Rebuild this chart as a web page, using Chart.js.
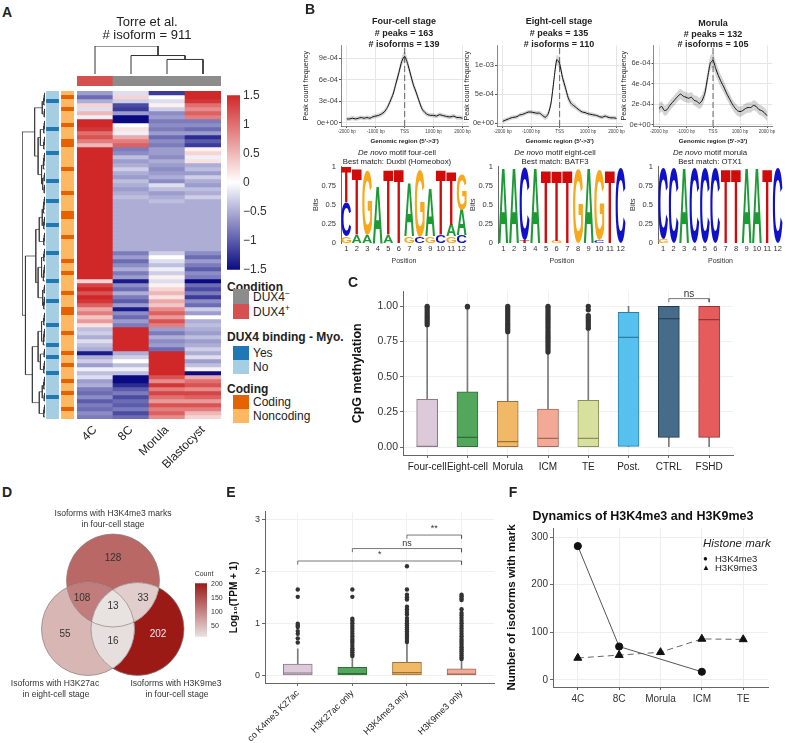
<!DOCTYPE html>
<html><head><meta charset="utf-8">
<script src="https://cdn.jsdelivr.net/npm/chart.js@4.4.1/dist/chart.umd.min.js"></script>
<style>
html,body{margin:0;padding:0;background:#fff;}
#root{position:relative;width:787px;height:743px;overflow:hidden;font-family:"Liberation Sans",Arial,sans-serif;color:#222;background:#fff;}
#root canvas{position:absolute;}
.t{position:absolute;white-space:nowrap;transform:translate(-50%,-50%);line-height:1;}
.l{position:absolute;white-space:nowrap;transform:translate(0,-50%);line-height:1;}
.b{position:absolute;}
sup{font-size:70%;vertical-align:super;line-height:0;}
</style></head><body><div id="root"></div>
<script>
/* ================= DATA ================= */
// Panel A: heatmap (row z-scores, top to bottom)
const hmStages = ['4C','8C','Morula','Blastocyst'];
const hmCondition = ['DUX4+','DUX4-','DUX4-','DUX4-'];
const hm4C = [-0.6,-0.9,-0.5,0.3,-0.2,0.5,-0.1,
 1.5,1.5,1.4,1.0,1.2,0.9,0.5,1.5,
 1.5,1.5,1.5,1.5,1.5,1.5,1.5,1.5,1.5,1.5,1.5,1.5,1.5,
 1.5,1.5,1.5,1.5,1.5,1.5,1.5,1.5,1.5,1.5,1.5,1.5,1.5,1.5,1.5,1.5,1.5,1.5,1.5,
 0.3,
 1.3,1.5,1.2,1.5,1.4,1.1,
 0.6,0.9,0.4,0.7,0.2,
 -0.4,-0.3,-0.5,-0.2,-0.4,-0.5,
 -1.4,
 -0.5,-0.3,-0.6,-0.1,-0.4,-0.2,-0.6,-0.5,
 -0.8,-0.9,-0.7,-1.0,-0.8,-0.9,-0.7,-0.8];
const hm8C = [-0.2,0.3,-0.3,-1.1,-1.2,-0.6,-1.5,-1.5,0.0,0.2,-0.1,0.6,0.9,1.1,-0.8,-0.7,
 -0.4,-0.6,-0.5,-0.3,-0.5,-0.6,-0.4,-0.5,-0.6,-0.5,-0.4,-0.5,
 -0.5,-0.5,-0.5,-0.5,-0.5,-0.5,-0.5,-0.5,-0.5,-0.5,-0.5,-0.5,
 -0.8,-0.6,-0.9,-0.7,-0.5,-0.8,-0.6,
 -1.4,
 -0.7,-0.9,-0.5,-0.8,-1.0,-0.6,
 -1.4,
 -0.7,-0.9,-0.6,-0.8,
 1.5,1.5,1.5,1.5,1.5,1.5,
 -0.5,
 -0.3,0.0,-0.4,-0.1,
 -0.4,
 -1.5,-1.5,-1.3,
 -1.0,-0.8,-1.1,-0.9,-1.0,-0.8,-1.1,-0.9];
const hmMorula = [-1.2,0.0,-0.2,0.1,-0.3,-0.7,-0.6,-0.8,-0.7,-0.8,-0.6,-0.9,-0.7,-0.8,-0.6,
 -0.6,-0.7,-0.5,-0.6,-0.7,-0.6,-0.5,-0.7,-0.2,-0.4,-0.6,-0.5,-0.4,
 -0.5,-0.5,-0.5,-0.5,-0.5,-0.5,-0.5,-0.5,-0.5,-0.5,-0.5,-0.5,
 -0.3,0.0,-0.2,-0.4,-0.1,-0.3,0.1,
 -0.2,0.1,
 0.3,0.5,0.2,0.6,0.4,
 0.8,1.1,0.7,1.2,0.9,
 -0.6,-0.8,-0.5,-0.7,-0.6,-0.9,
 1.5,1.5,1.5,1.5,1.5,1.5,
 1.2,0.8,1.4,0.9,1.3,1.0,0.7,1.2,0.9,1.1,0.8];
const hmBlastocyst = [1.5,1.5,1.4, 1.0,0.8,1.1,0.9, -0.8,-0.7,-0.9,-0.6, -1.3,-1.0,-1.2, 0.1,0.3,-0.1,0.2,
 -0.5,-0.4,-0.6,-0.3,-0.5,-0.6,-0.4,-0.5,-0.3,-0.5,
 -0.5,-0.5,-0.5,-0.5,-0.5,-0.5,-0.5,-0.5,-0.5,-0.5,-0.5,-0.5,
 -0.7,-0.9,-0.6,-0.8,-1.0,-0.7,-0.8,
 -1.5,
 -0.9,-1.1,-0.8,-1.2,-0.7,-0.9,
 -0.3,-0.6,0.0,-0.5,-0.4,
 -0.5,-0.6,-0.4,-0.6,-0.5,
 -0.3,-0.5,-0.2,-0.6,-0.4,0.1,
 -1.5,
 0.6,1.0,1.2,0.8,1.3,1.1,0.7,1.2,0.9,0.5,0.3];
// row annotations (1 = Yes / Coding)
const dux4Binding = [0,0,1,0,0,0,0,0,0,1, 0,0,0,0,0,1,0,0,0,0, 0,0,1,0,0,0,0,1,0,0, 0,0,0,1,0,0,0,0,0,0,
 1,0,0,0,0,0,0,1,0,0, 0,0,1,0,0,0,0,0,1,0, 0,0,0,1,0,0,1,0,0,0, 1,0,0,0,0,0,1,0,0,0, 0,0];
const isCoding = [0,1,0,0,1,0,0,0,1,0, 0,0,1,1,0,0,0,0,0,1, 0,0,0,0,0,1,0,0,0,0, 1,1,0,0,0,0,1,0,0,0,
 0,0,1,0,0,1,0,0,0,0, 1,0,0,0,1,1,0,0,0,0, 1,0,0,0,0,1,0,0,1,0, 0,0,1,0,0,1,0,0,0,1, 0,0];
// dendrograms: [height, left, right]; numbers = leaf counts
const colTree = [1.0, 1, [0.66, 1, [0.52, 1, 1]]];
const rowTree = [1.0,
 [0.45,[0.12,4,3],[0.3,[0.2,4,4],[0.15,5,[0.1,3,3]]]],
 [0.85,
  [0.4,[0.25,[0.12,5,4],4],[0.3,[0.15,4,5],[0.1,3,4]]],
  [0.55,[0.3,[0.15,4,5],[0.2,3,4]],[0.25,[0.12,4,3],4]]]];
const zTicks = [-1.5,-1,-0.5,0,0.5,1,1.5];

// Panel B: peak profiles (x1e-4)
const bpPos = [-2000,-1900,-1800,-1700,-1600,-1500,-1400,-1300,-1200,-1100,-1000,-900,-800,-700,-600,-500,-400,-300,-200,-100,
 0,100,200,300,400,500,600,700,800,900,1000,1100,1200,1300,1400,1500,1600,1700,1800,1900,2000];
const peak4C = [0.5,0.5,0.6,0.5,0.6,0.7,0.6,0.7,0.6,0.8,0.9,1.0,1.2,1.5,2.1,3.0,4.0,5.5,7.0,8.6,
 9.3,8.3,6.8,5.3,4.2,3.0,1.9,1.4,1.1,1.0,1.0,0.9,1.1,1.0,0.9,0.8,0.8,0.9,0.7,0.7,0.6];
const se4C = [0.3,0.3,0.3,0.3,0.3,0.3,0.3,0.3,0.3,0.3,0.3,0.3,0.35,0.35,0.4,0.45,0.5,0.55,0.6,0.65,
 0.7,0.65,0.6,0.55,0.5,0.45,0.4,0.35,0.3,0.3,0.3,0.3,0.3,0.3,0.3,0.3,0.3,0.3,0.3,0.3,0.3];
const peak8C = [0.3,0.5,0.7,0.9,1.0,1.1,1.4,1.5,1.7,1.9,1.9,1.8,1.7,1.7,1.3,1.0,1.6,3.5,7.5,11.0,
 10.3,7.9,6.2,4.4,3.4,3.0,2.6,2.2,1.9,1.8,1.6,1.5,1.4,1.3,1.1,1.0,1.2,1.0,0.9,0.9,0.8];
const se8C = [0.35,0.35,0.35,0.35,0.35,0.35,0.35,0.35,0.35,0.35,0.35,0.35,0.4,0.4,0.45,0.5,0.6,0.7,0.8,0.85,
 0.9,0.85,0.8,0.7,0.6,0.5,0.45,0.4,0.35,0.35,0.35,0.35,0.35,0.35,0.35,0.35,0.35,0.35,0.35,0.35,0.35];
const peakMorula = [1.6,1.8,1.4,1.5,1.9,2.2,2.5,2.8,3.0,2.8,2.7,2.6,2.7,2.4,2.3,2.1,2.4,3.1,4.6,6.0,
 6.3,5.5,4.8,4.2,3.7,3.1,2.6,2.1,1.7,1.4,1.3,1.4,1.6,1.7,1.7,1.9,1.8,1.5,1.4,1.2,0.9];
const seMorula = [0.5,0.5,0.5,0.5,0.5,0.5,0.5,0.5,0.5,0.5,0.5,0.5,0.5,0.5,0.55,0.55,0.6,0.6,0.65,0.7,
 0.7,0.7,0.65,0.6,0.6,0.55,0.55,0.5,0.5,0.5,0.5,0.5,0.5,0.5,0.5,0.5,0.5,0.5,0.5,0.5,0.5];
const bpTicks = [-2000,-1000,0,1000,2000];
const bpTickLabels = ['-2000 bp','-1000 bp','TSS','1000 bp','2000 bp'];
// motifs: per position, letters bottom -> top with bits
const motif4C = [
 [['G',0.085],['C',0.45],['T',0.45]],
 [['A',0.1],['T',0.86]],
 [['A',0.1],['G',0.85]],
 [['A',0.75]],
 [['A',0.1],['T',0.85]],
 [['T',0.96]],
 [['G',0.085],['A',0.69]],
 [['C',0.085],['G',0.87]],
 [['G',0.085],['A',0.62]],
 [['C',0.1],['T',0.85]],
 [['G',0.085],['A',0.15],['T',0.7]],
 [['C',0.1],['A',0.33],['G',0.47]]];
const motif8C = [
 [['A',0.98]],[['A',0.98]],[['T',0.04],['C',0.94]],[['A',0.98]],[['T',0.95]],[['G',0.03],['T',0.92]],
 [['T',0.95]],[['G',0.96]],[['A',0.98]],[['C',0.04],['G',0.92]],[['T',0.95]],[['C',0.98]]];
const motifMorula = [
 [['G',0.05],['C',0.93]],[['C',0.98]],[['A',0.98]],[['C',0.98]],[['C',0.98]],[['C',0.98]],
 [['T',0.96]],[['T',0.96]],[['A',0.98]],[['A',0.98]],[['T',0.96]],[['C',0.98]]];
const motifPositions = ['1','2','3','4','5','6','7','8','9','10','11','12'];

// Panel C: CpG methylation box plots
const cLabels = ['Four-cell','Eight-cell','Morula','ICM','TE','Post.','CTRL','FSHD'];
const cLow = [0,0,0,0,0,0,0,0];
const cQ1 = [0,0,0,0,0,0.005,0.069,0.069];
const cMed = [0.005,0.069,0.039,0.062,0.062,0.78,0.912,0.905];
const cQ3 = [0.34,0.393,0.326,0.271,0.333,0.958,1.0,1.0];
const cHigh = [0.86,0.975,0.81,0.665,0.835,1.0,1.0,1.0];
const cOutliers = [
 [0.87,0.885,0.9,0.915,0.93,0.945,0.96,0.975,0.99,1.0],
 [0.995,1.0],
 [0.82,0.835,0.85,0.865,0.88,0.895,0.91,0.925,0.94,0.955,0.97,0.985,1.0],
 [0.675,0.69,0.705,0.72,0.735,0.75,0.765,0.78,0.795,0.81,0.825,0.84,0.855,0.87,0.885,0.9,0.915,0.93,0.945,0.96,0.975,0.99,1.0],
 [0.845,0.86,0.875,0.89,0.905,0.92,0.935,0.975,1.0],
 [],[],[]];

// Panel D: Venn
const vennSets = ['H3K4me3 four-cell','H3K27ac eight-cell','H3K9me3 four-cell'];
const vennCounts = [128,55,202,108,33,16,13]; // K4 only, K27 only, K9 only, K4&K27, K4&K9, K27&K9, all
const vennMembership = [[1,0,0],[0,1,0],[0,0,1],[1,1,0],[1,0,1],[0,1,1],[1,1,1]];
const countTicks = [50,100,150,200];

// Panel E: log10(TPM+1)
const eLabels = ['co K4me3 K27ac','H3K27ac only','H3K4me3 only','H3K9me3 only'];
const eLow = [0,0,0,0];
const eQ1 = [0.005,0.005,0.005,0.005];
const eMed = [0.043,0.03,0.05,0.02];
const eQ3 = [0.216,0.154,0.247,0.123];
const eHigh = [0.51,0.34,0.6,0.3];
const eOutliers = [
 [0.63,0.71,0.8,0.85,0.93,0.96,0.99,1.51,1.65],
 [0.37,0.4,0.44,0.48,0.52,0.57,0.62,0.66,0.7,0.75,0.8,0.85,0.9,0.95,1.0,1.05,1.09,1.51,1.65],
 [0.64,0.68,0.72,0.76,0.8,0.84,0.88,0.92,0.96,1.0,1.05,1.1,1.17,1.22,1.27,1.32,1.46,1.5,1.55,1.65,2.1],
 [0.31,0.34,0.38,0.42,0.46,0.5,0.54,0.58,0.62,0.66,0.7,0.75,0.8,0.85,0.9,0.95,1.0,1.05,1.1,1.15,1.2,1.27,1.45,1.48,1.52,1.55]];
const eSignif = [['**',2,3,2.70],['ns',1,3,2.44],['*',0,3,2.20]];

// Panel F
const fStages = ['4C','8C','Morula','ICM','TE'];
const fH3K4me3 = [281,70,null,17,null];
const fH3K9me3 = [46,52,58,86,85];

/* ================= HELPERS ================= */
const root = document.getElementById('root');
Chart.defaults.font.family = '"Liberation Sans", Arial, sans-serif';
Chart.defaults.color = '#333';
Chart.defaults.animation = false;
Chart.defaults.responsive = false;
Chart.defaults.maintainAspectRatio = false;
Chart.defaults.plugins.legend.display = false;
Chart.defaults.plugins.tooltip.enabled = false;
Chart.defaults.events = [];

function mk(x,y,w,h){const c=document.createElement('canvas');c.width=w;c.height=h;
 c.style.left=x+'px';c.style.top=y+'px';c.style.width=w+'px';c.style.height=h+'px';root.appendChild(c);return c.getContext('2d');}
function T(x,y,html,css,cls){const d=document.createElement('div');d.className=cls||'t';d.style.left=x+'px';d.style.top=y+'px';
 d.innerHTML=html;if(css)d.style.cssText+=css;root.appendChild(d);return d;}
function B(x,y,w,h,col){const d=document.createElement('div');d.className='b';d.style.cssText+=`left:${x}px;top:${y}px;width:${w}px;height:${h}px;background:${col}`;root.appendChild(d);}
const setTicks = vals => s => { s.ticks = vals.map(v=>({value:v})); };
const minus = v => (v<0?'\u2212':'') + Math.abs(v);
const noGrid = {display:false,drawTicks:false};

function zColor(v){v=Math.max(-1.5,Math.min(1.5,v));const t=Math.abs(v)/1.5;
 const end=v<0?[10,10,130]:[208,40,40];const c=[255,255,255].map((w,i)=>Math.round(w+(end[i]-w)*t));return `rgb(${c.join(',')})`;}
const vMin=Math.min(...vennCounts), vMax=Math.max(...vennCounts);
function vColor(v){const t=(v-vMin)/(vMax-vMin);const lo=[232,226,225],hi=[155,26,22];
 return `rgb(${lo.map((a,i)=>Math.round(a+(hi[i]-a)*t)).join(',')})`;}

function dendro(tree, comb){
 const out=[]; let pos=0;
 function rec(node){
  if(typeof node==='number'){
   let c=pos+0.5,h=0;
   for(let i=1;i<node;i++){const p=pos+i+0.5,nh=comb*i;
    out.push({p:c,h:h},{p:c,h:nh},{p:p,h:nh},{p:p,h:0},{p:NaN,h:NaN});c=(c+p)/2;h=nh;}
   pos+=node;return {c,h};
  }
  const [H,L,R]=node;const l=rec(L),r=rec(R);
  out.push({p:l.c,h:l.h},{p:l.c,h:H},{p:r.c,h:H},{p:r.c,h:r.h},{p:NaN,h:NaN});
  return {c:(l.c+r.c)/2,h:H};
 }
 rec(tree);return out;
}

const annot = {id:'annot', afterDatasetsDraw(chart,args,o){ if(!o||!o.items) return; const ctx=chart.ctx;
 o.items.forEach(it=>{ctx.save();ctx.font=it.font||'10px "Liberation Sans"';ctx.fillStyle=it.color||'#333';ctx.textAlign='center';ctx.textBaseline='middle';
 ctx.fillText(it.text,chart.scales.x.getPixelForValue(it.x),chart.scales.y.getPixelForValue(it.y));ctx.restore();});}};
Chart.register(annot);

/* ================= PANEL A ================= */
const hmValues=[hm4C,hm8C,hmMorula,hmBlastocyst];
const nRows=hm4C.length;
const rowIdx=hm4C.map((_,i)=>i);
new Chart(mk(70,91,155,400),{type:'bar',
 data:{labels:hmStages,datasets:rowIdx.map(r=>({data:hmStages.map(()=>1),backgroundColor:hmValues.map(col=>zColor(col[r])),
   stack:'hm',barPercentage:1,categoryPercentage:1,borderWidth:0}))},
 options:{layout:{padding:{left:7,right:4,top:0,bottom:0}},
  scales:{x:{stacked:true,grid:noGrid,border:{display:false},ticks:{minRotation:45,maxRotation:45,font:{size:12},color:'#222',padding:4},afterFit(s){s.height=72;}},
   y:{stacked:true,display:false,min:0,max:nRows,reverse:true}}}});
// row annotation strips
new Chart(mk(45,91,30,328),{type:'bar',
 data:{labels:['DUX4 binding - Myo.','Coding'],datasets:rowIdx.map(r=>({data:[1,1],
   backgroundColor:[dux4Binding[r]?'#1f78b4':'#a6cee3',isCoding[r]?'#e66101':'#fdb863'],stack:'a',barPercentage:0.86,categoryPercentage:1,borderWidth:0}))},
 options:{layout:{padding:0},scales:{x:{stacked:true,display:false},y:{stacked:true,display:false,min:0,max:nRows,reverse:true}}}});
// condition bar
new Chart(mk(70,76,155,10),{type:'bar',
 data:{labels:hmStages,datasets:[{data:hmStages.map(()=>1),backgroundColor:hmCondition.map(c=>c==='DUX4+'?'#d65050':'#8c8c8c'),barPercentage:1,categoryPercentage:1,borderWidth:0}]},
 options:{layout:{padding:{left:7,right:4}},scales:{x:{display:false},y:{display:false,min:0,max:1}}}});
// column dendrogram
new Chart(mk(70,40,155,37),{type:'scatter',
 data:{datasets:[{data:dendro(colTree,0).map(d=>({x:d.p,y:d.h})),showLine:true,borderColor:'#333',borderWidth:1,pointRadius:0,spanGaps:false}]},
 options:{layout:{padding:{left:7,right:4,top:6,bottom:3}},scales:{x:{display:false,min:0,max:4},y:{display:false,min:0,max:1}}}});
// row dendrogram
new Chart(mk(20,91,25,328),{type:'scatter',
 data:{datasets:[{data:dendro(rowTree,0.018).map(d=>({x:d.h,y:d.p})),showLine:true,borderColor:'#333',borderWidth:0.7,pointRadius:0,spanGaps:false}]},
 options:{layout:{padding:{left:2,right:0}},scales:{x:{display:false,min:0,max:1,reverse:true},y:{display:false,min:0,max:nRows,reverse:true}}}});
// colour key
new Chart(mk(225,85,58,195),{type:'bar',
 data:{labels:['z'],datasets:[{data:[[zTicks[0],zTicks[zTicks.length-1]]],barPercentage:1,categoryPercentage:1,borderWidth:0,
  backgroundColor:(c)=>{const ch=c.chart;if(!ch.chartArea)return '#fff';const y=ch.scales.y;
   const g=ch.ctx.createLinearGradient(0,y.getPixelForValue(-1.5),0,y.getPixelForValue(1.5));
   zTicks.forEach((v,i)=>g.addColorStop(i/(zTicks.length-1),zColor(v)));return g;}}]},
 options:{layout:{padding:{left:2,top:6,bottom:9}},
  scales:{x:{display:false},y:{position:'right',min:-1.5,max:1.5,afterBuildTicks:setTicks(zTicks),grid:noGrid,border:{display:false},
   ticks:{callback:v=>minus(v),font:{size:12},color:'#333',padding:3},afterFit(s){s.width=43;}}}}});
T(7,12,'A','font-weight:bold;font-size:14px;');
T(147,21,'Torre et al.','font-size:13px;');
T(147,34,'# isoform = 911','font-size:13px;');
T(227,287,'Condition','font-weight:bold;font-size:12px;','l');
B(233,289,16,15,'#8c8c8c');B(233,304,16,15,'#d65050');
T(253,297,'DUX4<sup>\u2212</sup>','font-size:12px;','l');T(253,312,'DUX4<sup>+</sup>','font-size:12px;','l');
T(227,337,'DUX4 binding - Myo.','font-weight:bold;font-size:12px;','l');
B(233,346,16,14,'#1f78b4');B(233,360,16,14,'#a6cee3');
T(253,353,'Yes','font-size:12px;','l');T(253,367,'No','font-size:12px;','l');
T(227,389,'Coding','font-weight:bold;font-size:12px;','l');
B(233,395,16,14,'#e66101');B(233,409,16,14,'#fdb863');
T(253,402,'Coding','font-size:12px;','l');T(253,416,'Noncoding','font-size:12px;','l');

/* ================= PANEL B ================= */
const expFmt = v => v===0?'0e+00':v.toExponential(0).replace(/e([+-])(\d)$/,'e$10$2');
function peakChart(ctx,o){
 new Chart(ctx,{type:'line',data:{datasets:[
   {data:bpPos.map((b,i)=>({x:b,y:(o.m[i]+o.se[i])*1e-4})),borderWidth:0,pointRadius:0,fill:'+1',backgroundColor:'rgba(0,0,0,0.17)',tension:0.2},
   {data:bpPos.map((b,i)=>({x:b,y:(o.m[i]-o.se[i])*1e-4})),borderWidth:0,pointRadius:0,fill:false,tension:0.2},
   {data:bpPos.map((b,i)=>({x:b,y:o.m[i]*1e-4})),borderColor:'#111',borderWidth:1,pointRadius:0,fill:false,tension:0.2},
   {data:[{x:0,y:o.min},{x:0,y:o.max}],borderColor:'#444',borderWidth:0.8,borderDash:[6,3],pointRadius:0,fill:false}]},
  options:{layout:{padding:{top:5,right:o.padR}},
   scales:{x:{type:'linear',min:-2200,max:2200,afterBuildTicks:setTicks(bpTicks),
     ticks:{callback:v=>bpTickLabels[bpTicks.indexOf(v)],font:{size:4.6},color:'#444',padding:1,maxRotation:0,autoSkip:false},
     grid:{color:'#e6e6e6',tickLength:2,tickColor:'#555'},border:{color:'#555',width:0.7},
     title:{display:true,text:"Genomic region (5'->3')",font:{size:6.2,weight:'bold'},padding:{top:2,bottom:0},color:'#222'},afterFit(s){s.height=19;}},
    y:{min:o.min,max:o.max,afterBuildTicks:setTicks(o.ticks),ticks:{callback:expFmt,font:{size:7.5},color:'#444',padding:1},
     grid:{color:'#e6e6e6',tickLength:2,tickColor:'#555'},border:{color:'#555',width:0.7},
     title:{display:true,text:'Peak count frequency',font:{size:7.2},padding:0,color:'#222'},afterFit(s){s.width=o.axisW;}}}}});
}
peakChart(mk(302,40,170,105),{m:peak4C,se:se4C,min:-0.049e-3,max:1.081e-3,ticks:[0,3e-4,6e-4,9e-4],axisW:39,padR:3});
peakChart(mk(463,40,163,105),{m:peak8C,se:se8C,min:-0.052e-3,max:1.345e-3,ticks:[0,5e-4,1e-3],axisW:34,padR:3});
peakChart(mk(620,40,157,105),{m:peakMorula,se:seMorula,min:-0.01e-3,max:0.773e-3,ticks:[0,2e-4,4e-4,6e-4],axisW:33.6,padR:4.6});
T(310,9,'B','font-weight:bold;font-size:14px;');
[[404,'Four-cell stage','163','139',0],[559,'Eight-cell stage','135','110',0],[713,'Morula','132','105',2]].forEach(([x,a,p,i,dy])=>{
 T(x,21+dy,a,'font-weight:bold;font-size:9px;');T(x,32.5+dy*0.5,'# peaks = '+p,'font-weight:bold;font-size:9px;');T(x,43.5,'# isoforms = '+i,'font-weight:bold;font-size:9px;');});

const logoColors={A:'#1d9a35',C:'#1010c8',G:'#f7a81b',T:'#d10a0a'};
const logoPlugin={id:'logo',afterDatasetsDraw(chart){const ctx=chart.ctx;
 chart.data.datasets.forEach((ds,di)=>{chart.getDatasetMeta(di).data.forEach((el,i)=>{const L=ds.letters[i];if(!L)return;
  const {x,y,base,width}=el.getProps(['x','y','base','width'],true);const top=Math.min(y,base),h=Math.abs(base-y);if(h<0.8)return;
  ctx.save();ctx.font='bold 100px "Liberation Sans", Arial';const m=ctx.measureText(L);
  const tw=m.actualBoundingBoxLeft+m.actualBoundingBoxRight,th=m.actualBoundingBoxAscent+m.actualBoundingBoxDescent;
  ctx.translate(x-width/2,top);ctx.scale(width/tw,h/th);ctx.fillStyle=logoColors[L];ctx.textBaseline='alphabetic';
  ctx.fillText(L,m.actualBoundingBoxLeft,m.actualBoundingBoxAscent);ctx.restore();});});}};
function logoChart(ctx,motif,padR){
 const n=Math.max(...motif.map(p=>p.length));const ds=[];
 for(let k=0;k<n;k++)ds.push({data:motif.map(p=>p[k]?p[k][1]:0),letters:motif.map(p=>p[k]?p[k][0]:null),
  backgroundColor:'rgba(0,0,0,0)',borderWidth:0,stack:'s',barPercentage:1,categoryPercentage:0.93});
 new Chart(ctx,{type:'bar',data:{labels:motifPositions,datasets:ds},plugins:[logoPlugin],
  options:{layout:{padding:{top:5,right:padR}},
   scales:{x:{stacked:true,grid:noGrid,border:{display:false},ticks:{font:{size:7.5},color:'#333',padding:1,maxRotation:0,autoSkip:false},
     title:{display:true,text:'Position',font:{size:7},padding:{top:0,bottom:0},color:'#333'},afterFit(s){s.height=22;}},
    y:{stacked:true,min:0,max:1,afterBuildTicks:setTicks([0,0.25,0.5,0.75,1]),ticks:{callback:v=>String(v),font:{size:7.5},color:'#333',padding:2},
     grid:{display:false,drawOnChartArea:false,tickLength:3},border:{color:'#444',width:0.8},
     title:{display:true,text:'Bits',font:{size:7.5},padding:0,color:'#333'},afterFit(s){s.width=30;}}}}});
}
logoChart(mk(311,160,158,105),motif4C,2);
logoChart(mk(468,160,160,105),motif8C,2);
logoChart(mk(628,160,159,105),motifMorula,4);
[[397,'four-cell','Duxbl (Homeobox)'],[555,'eight-cell','BATF3'],[710,'morula','OTX1']].forEach(([x,s,b])=>{
 T(x,152.5,'<i>De novo</i> motif '+s,'font-size:7.8px;color:#222;');T(x,162,'Best match: '+b,'font-size:7.8px;color:#222;');});

/* ================= BOX PLOT HELPER ================= */
function boxChart(ctx,o){
 const idx=o.labels.map((_,i)=>i);
 const ds=[
  {type:'bar',data:idx.map(i=>({x:i,y:[o.lo[i],o.hi[i]]})),backgroundColor:'#7a7a7a',barThickness:1,grouped:false,order:6},
  {type:'bar',data:idx.map(i=>({x:i,y:[o.q1[i],o.q3[i]]})),backgroundColor:o.fill,borderColor:o.stroke,borderWidth:1,borderSkipped:false,barThickness:o.boxW,grouped:false,order:5},
  {type:'scatter',data:idx.map(i=>({x:i,y:o.med[i]})),pointStyle:'line',pointRadius:o.boxW/2,pointBorderColor:o.stroke,borderColor:o.stroke,pointBorderWidth:1.2,order:4},
  {type:'scatter',data:o.out.flatMap((a,i)=>a.map(v=>({x:i,y:v}))),pointRadius:o.outR,backgroundColor:'#333',borderColor:'#333',pointBorderWidth:0,order:3}];
 (o.brackets||[]).forEach(b=>ds.push({type:'line',data:b,borderColor:'#555',borderWidth:0.8,pointRadius:0,fill:false,order:1}));
 new Chart(ctx,{type:'bar',data:{datasets:ds},
  options:{layout:{padding:o.pad},plugins:{annot:{items:o.notes||[]}},
   scales:{x:{type:'linear',offset:false,min:-0.6,max:o.labels.length-0.4,afterBuildTicks:setTicks(idx),
     ticks:{callback:v=>o.labels[v],font:{size:o.xFont},color:'#222',padding:o.xPad,autoSkip:false,minRotation:o.rot,maxRotation:o.rot},
     grid:{offset:false,color:'#f0f0f0',tickLength:3,tickColor:'#666'},border:{color:'#666',width:1},afterFit(s){s.height=o.xH;}},
    y:{min:o.yMin,max:o.yMax,afterBuildTicks:setTicks(o.yTicks),ticks:{callback:o.yFmt,font:{size:o.yFont},color:'#333',padding:2},
     grid:{color:'#f0f0f0',tickLength:3,tickColor:'#666'},border:{color:'#666',width:1},
     title:{display:true,text:o.yTitle,font:{size:o.yTitleFont,weight:'bold'},color:'#111',padding:o.yTitlePad},afterFit(s){s.width=o.yW;}}}}});
}

/* ================= PANEL C ================= */
boxChart(mk(350,280,395,195),{labels:cLabels,lo:cLow,q1:cQ1,med:cMed,q3:cQ3,hi:cHigh,out:cOutliers,
 fill:['#dccadb','#53a75c','#f1b868','#f2aa96','#d8e09e','#56c0ee','#466c8a','#e65b5b'],
 stroke:['#8a7a89','#2f6e37','#9c7238','#a06a5a','#8a8f5c','#2e7ea3','#22394c','#9c3333'],
 boxW:21,outR:2.6,pad:{top:8,right:5},xFont:10,xPad:3,rot:0,xH:20,yMin:-0.056,yMax:1.104,yTicks:[0,0.25,0.5,0.75,1],
 yFmt:v=>v.toFixed(2),yFont:10.5,yTitle:'CpG methylation',yTitleFont:12.5,yTitlePad:{top:0,bottom:2},yW:53,
 brackets:[[{x:6,y:1.03},{x:6,y:1.055},{x:7,y:1.055},{x:7,y:1.03}]],
 notes:[{x:6.5,y:1.085,text:'ns',font:'10px "Liberation Sans"'}]});
T(353,282,'C','font-weight:bold;font-size:14px;');

/* ================= PANEL D ================= */
const vennPlugin={id:'venn',afterDatasetsDraw(chart,args,o){const ctx=chart.ctx,xs=chart.scales.x,ys=chart.scales.y,W=chart.width,H=chart.height;
 const C=o.circles.map(c=>({x:xs.getPixelForValue(c.x),y:ys.getPixelForValue(c.y),r:Math.abs(xs.getPixelForValue(c.x+c.r)-xs.getPixelForValue(c.x))}));
 vennMembership.forEach((mask,k)=>{ctx.save();
  C.forEach((c,i)=>{ctx.beginPath();if(mask[i]){ctx.arc(c.x,c.y,c.r,0,Math.PI*2);ctx.clip();}
   else{ctx.rect(0,0,W,H);ctx.moveTo(c.x+c.r,c.y);ctx.arc(c.x,c.y,c.r,0,Math.PI*2);ctx.clip('evenodd');}});
  ctx.fillStyle=vColor(vennCounts[k]);ctx.fillRect(0,0,W,H);ctx.restore();});
 ctx.save();ctx.strokeStyle='#8a8080';ctx.lineWidth=0.7;C.forEach(c=>{ctx.beginPath();ctx.arc(c.x,c.y,c.r,0,Math.PI*2);ctx.stroke();});
 ctx.font='10px "Liberation Sans", Arial';ctx.textAlign='center';ctx.textBaseline='middle';
 o.labelAt.forEach((p,k)=>{ctx.fillStyle=vennCounts[k]>180?'#f6e6e6':'#333';ctx.fillText(String(vennCounts[k]),xs.getPixelForValue(p[0]),ys.getPixelForValue(p[1]));});
 ctx.restore();}};
new Chart(mk(0,500,232,205),{type:'scatter',data:{datasets:[{data:[]}]},plugins:[vennPlugin],
 options:{layout:{padding:0},plugins:{venn:{
   circles:[{x:113,y:580.5,r:46.5},{x:88,y:629,r:46.5},{x:137.5,y:629,r:46.5}],
   labelAt:[[113,558],[65,634],[158,634],[82,598],[143,598],[113,641],[113,606]]}},
  scales:{x:{display:false,min:0,max:232},y:{display:false,min:500,max:705,reverse:true}}}});
T(7,492,'D','font-weight:bold;font-size:14px;');
T(113,513,'Isoforms with H3K4me3 marks','font-size:8.6px;color:#333;');T(113,524,'in four-cell stage','font-size:8.6px;color:#333;');
T(55,683,'Isoforms with H3K27ac','font-size:8.6px;color:#333;');T(56,694,'in eight-cell stage','font-size:8.6px;color:#333;');
T(176,683,'Isoforms with H3K9me3','font-size:8.6px;color:#333;');T(177,694,'in four-cell stage','font-size:8.6px;color:#333;');
T(204,573,'Count','font-size:7px;color:#333;');
new Chart(mk(193,575,37,70),{type:'bar',
 data:{labels:['count'],datasets:[{data:[[vMin,vMax]],barPercentage:1,categoryPercentage:1,borderWidth:0,
  backgroundColor:(c)=>{const ch=c.chart;if(!ch.chartArea)return '#fff';const y=ch.scales.y;
   const g=ch.ctx.createLinearGradient(0,y.getPixelForValue(vMin),0,y.getPixelForValue(vMax));
   g.addColorStop(0,vColor(vMin));g.addColorStop(0.5,vColor((vMin+vMax)/2));g.addColorStop(1,vColor(vMax));return g;}}]},
 options:{layout:{padding:{left:2,top:6,bottom:7}},
  scales:{x:{display:false},y:{position:'right',min:vMin,max:vMax,afterBuildTicks:setTicks(countTicks),grid:noGrid,border:{display:false},
   ticks:{font:{size:7},color:'#333',padding:4},afterFit(s){s.width=23;}}}}});

/* ================= PANEL E ================= */
boxChart(mk(228,496,282,247),{labels:eLabels,lo:eLow,q1:eQ1,med:eMed,q3:eQ3,hi:eHigh,out:eOutliers,
 fill:['#dccadb','#53a75c','#f1b868','#f2aa96'],stroke:['#8a7a89','#2f6e37','#9c7238','#a06a5a'],
 boxW:29,outR:2.2,pad:{top:7,right:5},xFont:9,xPad:2,rot:45,xH:60,yMin:-0.15,yMax:3.15,yTicks:[0,1,2,3],
 yFmt:v=>String(v),yFont:9,yTitle:'Log\u2081\u2080(TPM + 1)',yTitleFont:10,yTitlePad:{top:0,bottom:4},yW:37,
 brackets:eSignif.map(([s,a,b,h])=>[{x:a,y:h-0.07},{x:a,y:h},{x:b,y:h},{x:b,y:h-0.07}]),
 notes:eSignif.map(([s,a,b,h])=>({x:(a+b)/2,y:h+(s==='ns'?0.1:0.12),text:s,font:'9px "Liberation Sans"'}))});
T(231,492,'E','font-weight:bold;font-size:14px;');

/* ================= PANEL F ================= */
new Chart(mk(505,520,282,190),{type:'line',
 data:{datasets:[
  {data:fH3K4me3.map((v,i)=>({x:i,y:v})),spanGaps:true,borderColor:'#555',borderWidth:1,pointStyle:'circle',pointRadius:3.6,pointBackgroundColor:'#111',pointBorderColor:'#111'},
  {data:fH3K9me3.map((v,i)=>({x:i,y:v})),borderColor:'#666',borderWidth:1,borderDash:[6,4],pointStyle:'triangle',pointRadius:4.6,pointBackgroundColor:'#111',pointBorderColor:'#111'}]},
 options:{layout:{padding:{top:7,right:19}},
  scales:{x:{type:'linear',min:-0.6,max:4.6,afterBuildTicks:setTicks([0,1,2,3,4]),ticks:{callback:v=>fStages[v],font:{size:10},color:'#333',padding:3,maxRotation:0,autoSkip:false},
    grid:{color:'#eeeeee',tickLength:3,tickColor:'#666'},border:{color:'#666',width:1},afterFit(s){s.height=23;}},
   y:{min:-15,max:319,afterBuildTicks:setTicks([0,100,200,300]),ticks:{font:{size:10},color:'#333',padding:2},
    grid:{color:'#eeeeee',tickLength:3,tickColor:'#666'},border:{color:'#666',width:1},
    title:{display:true,text:'Number of isoforms with mark',font:{size:11.5,weight:'bold'},color:'#111',padding:{top:0,bottom:3}},afterFit(s){s.width=48;}}}}});
T(513,492,'F','font-weight:bold;font-size:14px;');
T(643,516,'Dynamics of H3K4me3 and H3K9me3','font-weight:bold;font-size:12.5px;color:#111;');
T(703,544,'<i>Histone mark</i>','font-size:11.5px;color:#222;','l');
T(703,559,'\u25CF','font-size:8px;color:#111;','l');T(715,559,'H3K4me3','font-size:9.5px;color:#222;','l');
T(702,568,'\u25B2','font-size:8px;color:#111;','l');T(715,568,'H3K9me3','font-size:9.5px;color:#222;','l');
</script></body></html>
